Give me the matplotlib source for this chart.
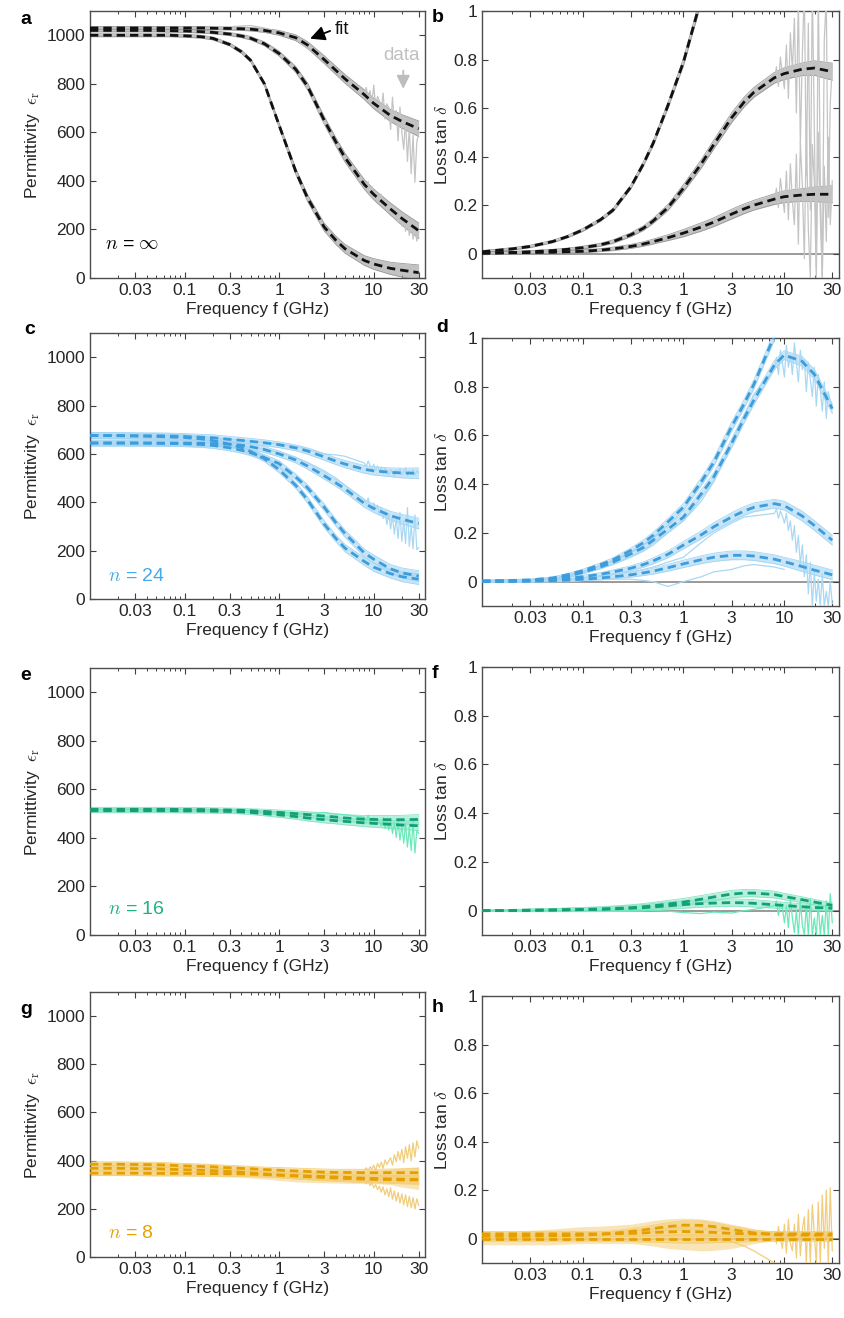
import numpy as np
import matplotlib
matplotlib.use('Agg')
import matplotlib.pyplot as plt
from matplotlib.ticker import FixedLocator, LogLocator, NullFormatter

plt.rcParams['font.family'] = ['Liberation Sans', 'DejaVu Sans']
plt.rcParams['mathtext.fontset'] = 'cm'

nan = np.nan

# frequency grids (GHz)
F = [0.01, 0.02, 0.03, 0.05, 0.07, 0.1, 0.15, 0.2, 0.3, 0.4, 0.5, 0.7, 1, 1.5, 2, 3, 4, 5, 8, 10, 15, 20, 30]
FN = np.geomspace(8, 30, 30)   # grid for the noisy high-frequency part of the data

xticks = [0.03, 0.1, 0.3, 1, 3, 10, 30]
xticklabels = ['0.03', '0.1', '0.3', '1', '3', '10', '30']

# ---- n = inf (a, b) ----
a_fit1 = [1030, 1030, 1030, 1030, 1030, 1030, 1030, 1029, 1028, 1027, 1025, 1020, 1010, 990, 960, 900, 855, 820, 755, 720, 670, 645, 615]
a_fit2 = [1020, 1020, 1020, 1020, 1019, 1018, 1015, 1012, 1005, 997, 988, 965, 925, 860, 790, 650, 560, 495, 385, 345, 285, 245, 195]
a_fit3 = [1000, 1000, 1000, 1000, 1000, 998, 994, 987, 962, 932, 897, 800, 630, 440, 330, 210, 155, 120, 72, 58, 40, 32, 22]
a_band = [6, 6, 6, 6, 6, 6, 6, 6, 6, 7, 7, 8, 10, 12, 14, 16, 17, 18, 20, 22, 25, 28, 32]
a_data1 = [1030, 1030, 1030, 1030, 1030, 1030, 1031, 1032, 1035, 1038, 1040, 1030, 1012, 985, 945, 905, 860, 815]
a_noisy1 = [762, 785, 740, 772, 718, 795, 705, 748, 730, 690, 762, 655, 718, 702, 612,
            745, 640, 690, 565, 705, 600, 530, 655, 480, 622, 430, 590, 395, 560, 600]
a_data2 = [1020, 1020, 1020, 1020, 1019, 1018, 1015, 1012, 1005, 997, 988, 965, 922, 858, 785, 640, 555, 488]
a_noisy2 = [392, 372, 398, 360, 378, 342, 356, 330, 318, 344, 300, 322, 286, 300, 268,
            296, 250, 282, 228, 262, 214, 248, 192, 238, 175, 226, 160, 212, 152, 190]

b_fit1 = [0.008, 0.02, 0.03, 0.05, 0.07, 0.098, 0.14, 0.18, 0.275, 0.37, 0.455, 0.61, 0.79, 1.05,
          nan, nan, nan, nan, nan, nan, nan, nan, nan]
b_fit2 = [0.003, 0.005, 0.008, 0.013, 0.018, 0.025, 0.037, 0.05, 0.078, 0.105, 0.135, 0.19, 0.27, 0.37,
          0.45, 0.56, 0.625, 0.665, 0.725, 0.742, 0.76, 0.765, 0.75]
b_fit3 = [0.002, 0.004, 0.005, 0.006, 0.008, 0.01, 0.015, 0.02, 0.03, 0.04, 0.05, 0.066, 0.085, 0.11,
          0.13, 0.163, 0.185, 0.2, 0.225, 0.235, 0.242, 0.245, 0.245]
b_band = [0.005, 0.005, 0.005, 0.005, 0.005, 0.006, 0.006, 0.007, 0.008, 0.009, 0.01, 0.012, 0.015, 0.017,
          0.018, 0.02, 0.02, 0.02, 0.022, 0.024, 0.026, 0.03, 0.035]
b_data2 = [0.003, 0.005, 0.008, 0.013, 0.018, 0.025, 0.037, 0.05, 0.078, 0.105, 0.135, 0.19, 0.27, 0.37, 0.455, 0.575, 0.64, 0.67]
b_noisy2 = [0.71, 0.77, 0.69, 0.81, 0.74, 0.68, 0.86, 0.64, 0.91, 0.75, 0.97, 0.58, 1.04, 0.45, 0.82,
            1.1, 0.32, 0.95, 0.18, 1.1, 0.52, -0.06, 1.1, 0.3, -0.1, 0.88, 1.05, 0.15, 0.62, 0.78]
b_data3 = [0.002, 0.004, 0.005, 0.006, 0.008, 0.01, 0.015, 0.02, 0.03, 0.04, 0.05, 0.066, 0.085, 0.11, 0.125, 0.16, 0.175, 0.19]
b_noisy3 = [0.22, 0.27, 0.19, 0.31, 0.24, 0.17, 0.34, 0.14, 0.37, 0.22, 0.12, 0.41, 0.04, 0.46, 0.28,
            -0.02, 0.52, 0.1, -0.1, 0.45, 0.3, -0.1, 0.5, 0.15, -0.1, 0.36, 0.05, 0.48, 0.12, 0.3]

# ---- n = 24 (c, d) ----
c_fit1 = [676, 676, 675, 675, 674, 672, 669, 667, 660, 656, 652, 646, 638, 625, 612, 588, 570, 558, 536, 530, 524, 521, 520]
c_fit2 = [645, 645, 645, 645, 645, 645, 644, 643, 640, 636, 630, 618, 600, 575, 550, 510, 480, 455, 395, 375, 345, 330, 312]
c_fit3 = [676, 675, 674, 672, 670, 668, 662, 655, 640, 626, 610, 580, 535, 470, 410, 310, 250, 210, 155, 132, 105, 92, 82]
c_fit4 = [645, 645, 645, 644, 643, 642, 639, 635, 625, 615, 605, 585, 560, 505, 460, 380, 315, 270, 190, 165, 125, 108, 95]
c_band = [12, 12, 12, 12, 12, 12, 12, 12, 12, 12, 12, 12, 12, 12, 13, 14, 14, 15, 16, 17, 18, 20, 22]
c_data1 = [676, 676, 675, 675, 674, 672, 669, 667, 660, 656, 652, 648, 642, 632, 620, 600, 596, 590]
c_noisy1 = [562, 548, 571, 552, 540, 557, 533, 550, 527, 546, 519, 541, 530, 512, 537,
            523, 508, 534, 520, 539, 513, 526, 542, 510, 531, 518, 536, 512, 530, 522]
c_data2 = [645, 645, 645, 645, 645, 645, 644, 643, 640, 636, 630, 620, 605, 585, 565, 530, 500, 470]
c_noisy2 = [412, 392, 418, 384, 366, 397, 372, 388, 348, 377, 333, 362, 308, 352, 290,
            343, 268, 334, 250, 358, 238, 322, 229, 378, 218, 302, 208, 348, 204, 212]

d_fit1 = [0.003, 0.005, 0.007, 0.015, 0.028, 0.045, 0.07, 0.09, 0.128, 0.16, 0.19, 0.245, 0.306, 0.41,
          0.49, 0.636, 0.73, 0.81, 1.01, nan, nan, nan, nan]
d_fit2 = [0.002, 0.003, 0.004, 0.01, 0.022, 0.038, 0.06, 0.08, 0.114, 0.14, 0.17, 0.215, 0.265, 0.36,
          0.43, 0.567, 0.67, 0.745, 0.89, 0.93, 0.905, 0.85, 0.71]
d_fit3 = [0.001, 0.002, 0.004, 0.008, 0.013, 0.02, 0.03, 0.04, 0.055, 0.07, 0.085, 0.112, 0.15, 0.192,
          0.225, 0.265, 0.29, 0.305, 0.32, 0.312, 0.27, 0.23, 0.17]
d_fit4 = [0.001, 0.001, 0.002, 0.004, 0.006, 0.01, 0.015, 0.02, 0.028, 0.036, 0.043, 0.057, 0.073, 0.09,
          0.1, 0.108, 0.108, 0.105, 0.092, 0.082, 0.062, 0.047, 0.028]
d_band = [0.004, 0.004, 0.004, 0.004, 0.005, 0.006, 0.007, 0.008, 0.01, 0.011, 0.012, 0.014, 0.015, 0.016,
          0.017, 0.018, 0.018, 0.018, 0.018, 0.018, 0.02, 0.02, 0.02]
d_data2 = [0.002, 0.003, 0.004, 0.01, 0.02, 0.035, 0.055, 0.07, 0.1, 0.125, 0.15, 0.2, 0.25, 0.33, 0.41, 0.57, 0.68, 0.77]
d_noisy2 = [0.87, 0.92, 0.85, 0.95, 0.9, 0.84, 0.97, 0.88, 0.93, 0.85, 0.98, 0.9, 0.82, 0.95, 0.87,
            0.91, 0.78, 0.9, 0.83, 0.76, 0.88, 0.72, 0.85, 0.79, 0.7, 0.82, 0.67, 0.78, 0.74, 0.71]
d_data3 = [0.0, 0.001, 0.003, 0.006, 0.01, 0.015, 0.022, 0.03, 0.04, 0.05, 0.06, 0.08, 0.1, 0.16, 0.2, 0.24, 0.265, 0.27]
d_noisy3 = [0.28, 0.3, 0.26, 0.29, 0.27, 0.24, 0.28, 0.21, 0.25, 0.17, 0.23, 0.12, 0.19, 0.07, 0.15,
            0.02, 0.11, -0.05, 0.08, -0.1, 0.04, -0.08, 0.01, -0.1, 0.03, -0.1, -0.04, -0.1, 0.0, -0.09]
d_data4 = [0, 0, 0, 0, 0, 0.005, 0.008, 0.01, 0.01, 0.005, 0.0, -0.02, 0.0, 0.02, 0.04, 0.05, 0.065, 0.07,
           0.06, 0.05, nan, nan, nan]

# ---- n = 16 (e, f) ----
e_fit1 = [518, 518, 518, 518, 518, 517, 517, 516, 515, 514, 512, 509, 505, 500, 496, 490, 486, 482, 477, 476, 475, 475, 476]
e_fit2 = [512, 512, 512, 512, 512, 511, 511, 510, 509, 507, 505, 500, 495, 488, 482, 475, 471, 468, 462, 460, 456, 453, 450]
e_band = [8, 8, 8, 8, 8, 8, 8, 8, 8, 8, 8, 9, 10, 11, 12, 13, 13, 14, 15, 16, 17, 18, 20]
e_data1 = [518, 518, 518, 518, 518, 517, 517, 516, 515, 514, 512, 509, 506, 503, 500, 505, 498, 495]
e_noisy1 = [485, 470, 494, 462, 478, 482, 455, 476, 468, 449, 484, 440, 471, 432, 479,
            418, 463, 402, 468, 391, 452, 378, 461, 362, 443, 348, 468, 338, 431, 418]

f_fit1 = [0.0, 0.001, 0.002, 0.003, 0.004, 0.005, 0.007, 0.009, 0.012, 0.016, 0.02, 0.027, 0.035, 0.047,
          0.056, 0.068, 0.072, 0.072, 0.066, 0.058, 0.045, 0.035, 0.022]
f_fit2 = [0.0, 0.0, 0.001, 0.002, 0.003, 0.004, 0.005, 0.007, 0.01, 0.012, 0.015, 0.02, 0.025, 0.029,
          0.031, 0.033, 0.032, 0.03, 0.024, 0.021, 0.016, 0.013, 0.01]
f_band = [0.003, 0.004, 0.005, 0.006, 0.007, 0.008, 0.009, 0.01, 0.012, 0.013, 0.014, 0.015, 0.015, 0.015,
          0.015, 0.015, 0.015, 0.015, 0.014, 0.013, 0.012, 0.011, 0.01]
f_data1 = [0, 0, 0, 0, 0, 0.001, 0.001, 0.002, 0.002, 0.001, 0.0, -0.002, -0.008, -0.012, -0.006, -0.01, 0.0, 0.005]
f_noisy1 = [0.02, 0.04, -0.02, 0.03, 0.01, -0.05, 0.02, -0.07, 0.05, -0.03, -0.09, 0.0, -0.1, 0.04, -0.06,
            -0.1, 0.02, -0.1, 0.05, -0.1, -0.03, -0.1, 0.03, -0.1, -0.02, -0.1, 0.04, -0.1, 0.07, -0.05]

# ---- n = 8 (g, h) ----
g_fit1 = [385, 385, 384, 383, 381, 378, 376, 374, 370, 368, 366, 363, 360, 357, 355, 352, 351, 351, 350, 350, 350, 350, 350]
g_fit2 = [368, 368, 367, 366, 364, 362, 360, 358, 355, 352, 349, 345, 340, 336, 333, 330, 328, 326, 323, 322, 321, 320, 320]
g_fit3 = [348, 348, 348, 347, 347, 347, 346, 346, 345, 345, 344, 342, 340, 338, 336, 334, 332, 331, 327, 326, 324, 323, 322]
g_band = [10, 10, 10, 10, 10, 10, 10, 10, 10, 10, 10, 10, 11, 12, 12, 13, 13, 13, 14, 14, 15, 16, 18]
g_lo = [338, 338, 338, 337, 337, 336, 335, 334, 332, 330, 328, 324, 318, 312, 310, 308, 307, 306, 305, 305, 300, 290, 280]
g_hi = [395, 395, 394, 393, 391, 389, 387, 385, 381, 379, 376, 372, 368, 365, 363, 362, 361, 361, 360, 360, 365, 370, 375]
g_noisy_hi = [362, 370, 357, 374, 366, 381, 360, 388, 372, 394, 368, 403, 384, 398, 412,
              381, 425, 395, 438, 402, 447, 392, 458, 410, 466, 399, 474, 415, 482, 452]
g_noisy_lo = [314, 303, 318, 296, 309, 287, 301, 280, 294, 269, 291, 258, 283, 250, 287,
              240, 275, 232, 268, 224, 262, 216, 258, 209, 252, 204, 247, 199, 242, 214]

h_fit1 = [0.01, 0.01, 0.011, 0.012, 0.013, 0.015, 0.018, 0.022, 0.03, 0.036, 0.042, 0.05, 0.056, 0.055,
          0.05, 0.038, 0.03, 0.024, 0.017, 0.015, 0.015, 0.015, 0.015]
h_fit2 = [0.02, 0.02, 0.02, 0.02, 0.02, 0.02, 0.02, 0.021, 0.022, 0.024, 0.026, 0.028, 0.03, 0.028,
          0.026, 0.022, 0.021, 0.02, 0.02, 0.02, 0.02, 0.02, 0.02]
h_fit3 = [0, 0, 0, 0, 0, 0, 0, 0, 0, 0, 0, 0, 0, 0, 0, 0, 0, 0, 0, 0, 0, 0, 0]
h_band = [0.01, 0.01, 0.01, 0.01, 0.01, 0.01, 0.01, 0.01, 0.012, 0.013, 0.014, 0.016, 0.018, 0.018,
          0.016, 0.014, 0.013, 0.012, 0.01, 0.01, 0.01, 0.01, 0.01]
h_lo = [-0.025, -0.025, -0.025, -0.025, -0.022, -0.02, -0.02, -0.02, -0.02, -0.025, -0.03, -0.04, -0.045, -0.05,
        -0.048, -0.04, -0.03, -0.02, -0.008, -0.005, 0, 0, 0]
h_hi = [0.03, 0.03, 0.035, 0.04, 0.045, 0.05, 0.052, 0.055, 0.06, 0.068, 0.075, 0.082, 0.085, 0.082,
        0.075, 0.06, 0.05, 0.04, 0.028, 0.025, 0.025, 0.025, 0.025]
h_data1 = [0, 0, 0, 0, 0, 0, 0, 0, 0, 0, 0, 0, 0, -0.002, -0.005, -0.012, -0.03, -0.05, -0.1, -0.12, nan, nan, nan]
h_noisy1 = [0.03, -0.02, 0.05, 0.0, -0.04, 0.06, -0.06, 0.08, -0.02, -0.05, 0.06, -0.08, 0.1, -0.07, 0.04,
            0.09, -0.1, 0.12, -0.1, 0.14, 0.02, -0.1, 0.15, -0.1, 0.18, -0.04, 0.2, -0.1, 0.21, -0.05]

# colours: (fit, band, data, label)
gray = ('#111111', '#9a9a9a', '#c4c4c4', '#000000')
blue = ('#3d9ddc', '#a3d5f3', '#a9d8f5', '#45aaeb')
green = ('#13a079', '#86e5c3', '#6ae9b9', '#1db27f')
orange = ('#e5a000', '#f3cf7a', '#f1cd7c', '#e8a202')

F = np.array(F)
low = F < 8
W, H = 844, 1318


def px_axes(fig, x0, x1, top, bottom):
    return fig.add_axes([x0 / W, 1 - bottom / H, (x1 - x0) / W, (bottom - top) / H])


def style(ax, perm):
    ax.set_xscale('log')
    ax.set_xlim(0.01, 35)
    ax.xaxis.set_major_locator(FixedLocator(xticks))
    ax.set_xticklabels(xticklabels)
    ax.xaxis.set_minor_locator(LogLocator(base=10, subs=np.arange(2, 10)))
    ax.xaxis.set_minor_formatter(NullFormatter())
    if perm:
        ax.set_ylim(0, 1100)
        ax.set_yticks([0, 200, 400, 600, 800, 1000])
        ax.set_ylabel(r'Permittivity  $\epsilon_{\rm r}$', fontsize=12.5, color='#262626', labelpad=3)
    else:
        ax.set_ylim(-0.1, 1)
        ax.set_yticks([0, 0.2, 0.4, 0.6, 0.8, 1])
        ax.set_yticklabels(['0', '0.2', '0.4', '0.6', '0.8', '1'])
        ax.set_ylabel(r'Loss tan $\delta$', fontsize=12.5, color='#262626', labelpad=2)
        ax.axhline(0, color='#7f7f7f', lw=1.1, zorder=1)
    ax.set_xlabel('Frequency f (GHz)', fontsize=12.5, color='#262626', labelpad=3)
    ax.tick_params(which='both', direction='in', top=True, right=True,
                   color='#404040', labelcolor='#262626', labelsize=12.5)
    ax.tick_params(which='major', length=4, width=0.8)
    ax.tick_params(which='minor', length=2.2, width=0.7)
    for s in ax.spines.values():
        s.set_color('#4d4d4d')
        s.set_linewidth(1.0)


def draw(ax, fits, band, datas, noisy, cols, env=None):
    fc, bc, dc, _ = cols
    band = np.array(band, dtype=float)
    if env is not None:
        ax.fill_between(F, env[0], env[1], color=bc, alpha=0.55, lw=0, zorder=2)
    for y in fits:
        y = np.array(y, dtype=float)
        ax.fill_between(F, y - band, y + band, color=bc, alpha=0.6, lw=0, zorder=2)
        ax.plot(F, y - band, color=bc, lw=0.6, zorder=2)
        ax.plot(F, y + band, color=bc, lw=0.6, zorder=2)
    for lo_vals, tail in datas:
        if tail is None:
            ax.plot(F, lo_vals, color=dc, lw=0.9, zorder=3)
        else:
            x = np.concatenate([F[low], FN])
            y = np.concatenate([np.array(lo_vals, dtype=float), np.array(tail, dtype=float)])
            ax.plot(x, y, color=dc, lw=0.9, zorder=3)
    for tail in noisy:
        ax.plot(FN, tail, color=dc, lw=0.9, zorder=3)
    for y in fits:
        ax.plot(F, y, color=fc, lw=2.0, dashes=(3.0, 1.8), zorder=4)


fig = plt.figure(figsize=(W / 100, H / 100), dpi=100)

ax_a = px_axes(fig, 90, 425, 11, 278)
ax_b = px_axes(fig, 482, 839, 11, 278)
ax_c = px_axes(fig, 90, 425, 333, 599)
ax_d = px_axes(fig, 482, 839, 338, 606)
ax_e = px_axes(fig, 90, 425, 668, 935)
ax_f = px_axes(fig, 482, 839, 667, 935)
ax_g = px_axes(fig, 90, 425, 992, 1257)
ax_h = px_axes(fig, 482, 839, 996, 1263)

draw(ax_a, [a_fit1, a_fit2, a_fit3], a_band,
     [(a_data1, a_noisy1), (a_data2, a_noisy2)], [], gray)
draw(ax_b, [b_fit1, b_fit2, b_fit3], b_band,
     [(b_data2, b_noisy2), (b_data3, b_noisy3)], [], gray)
draw(ax_c, [c_fit1, c_fit2, c_fit3, c_fit4], c_band,
     [(c_data1, c_noisy1), (c_data2, c_noisy2)], [], blue)
draw(ax_d, [d_fit1, d_fit2, d_fit3, d_fit4], d_band,
     [(d_data2, d_noisy2), (d_data3, d_noisy3), (d_data4, None)], [], blue)
draw(ax_e, [e_fit1, e_fit2], e_band,
     [(e_data1, e_noisy1)], [], green)
draw(ax_f, [f_fit1, f_fit2], f_band,
     [(f_data1, f_noisy1)], [], green)
draw(ax_g, [g_fit1, g_fit2, g_fit3], g_band,
     [], [g_noisy_hi, g_noisy_lo], orange, env=(g_lo, g_hi))
draw(ax_h, [h_fit1, h_fit2, h_fit3], h_band,
     [(h_data1, None)], [h_noisy1], orange, env=(h_lo, h_hi))

for ax in [ax_a, ax_c, ax_e, ax_g]:
    style(ax, True)
for ax in [ax_b, ax_d, ax_f, ax_h]:
    style(ax, False)

# n labels
ax_a.text(0.045, 0.127, r'$n$ = $\infty$', transform=ax_a.transAxes, fontsize=14, color=gray[3], va='center')
ax_c.text(0.054, 0.083, r'$n$ = 24', transform=ax_c.transAxes, fontsize=14, color=blue[3], va='center')
ax_e.text(0.054, 0.094, r'$n$ = 16', transform=ax_e.transAxes, fontsize=14, color=green[3], va='center')
ax_g.text(0.054, 0.090, r'$n$ = 8', transform=ax_g.transAxes, fontsize=14, color=orange[3], va='center')

# fit / data annotations
ax_a.annotate('', xy=(2.0, 982), xytext=(3.7, 1022),
              arrowprops=dict(arrowstyle='-|>', color='k', lw=1.3, mutation_scale=22))
ax_a.text(3.9, 1024, 'fit', fontsize=13.5, va='center', ha='left', color='#111111')
ax_a.text(19.6, 915, 'data', fontsize=13.5, va='center', ha='center', color='#c0c0c0')
ax_a.annotate('', xy=(20.6, 768), xytext=(20.6, 866),
              arrowprops=dict(arrowstyle='-|>', color='#bdbdbd', lw=1.3, mutation_scale=20))

# panel letters
letters = [('a', 20, 19), ('b', 432, 18), ('c', 24, 330), ('d', 436, 328),
           ('e', 20, 676), ('f', 432, 674), ('g', 20, 1010), ('h', 432, 1008)]
for s, x, y in letters:
    fig.text(x / W, 1 - y / H, s, fontsize=14, fontweight='bold', ha='left', va='center')

fig.savefig('out.png', dpi=100)
